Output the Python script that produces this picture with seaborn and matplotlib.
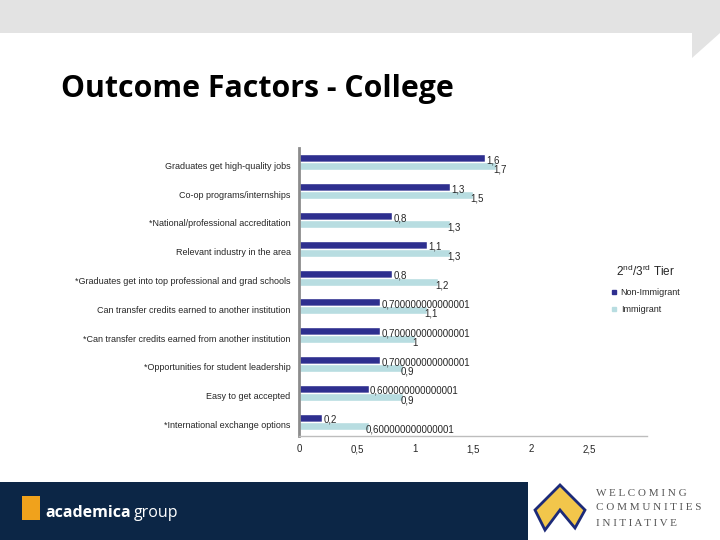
import matplotlib
matplotlib.use("Agg")
import matplotlib.pyplot as plt
import matplotlib.transforms as mtransforms
from matplotlib.patches import Rectangle, Polygon
from matplotlib.lines import Line2D
import seaborn as sns
import pandas as pd

categories = [
    "Graduates get high-quality jobs",
    "Co-op programs/internships",
    "*National/professional accreditation",
    "Relevant industry in the area",
    "*Graduates get into top professional and grad schools",
    "Can transfer credits earned to another institution",
    "*Can transfer credits earned from another institution",
    "*Opportunities for student leadership",
    "Easy to get accepted",
    "*International exchange options",
]
non_immigrant = [1.6, 1.3, 0.8, 1.1, 0.8, 0.7, 0.7, 0.7, 0.6, 0.2]
immigrant = [1.7, 1.5, 1.3, 1.3, 1.2, 1.1, 1.0, 0.9, 0.9, 0.6]
non_immigrant_labels = ["1,6", "1,3", "0,8", "1,1", "0,8", "0,700000000000001",
                        "0,700000000000001", "0,700000000000001", "0,600000000000001", "0,2"]
immigrant_labels = ["1,7", "1,5", "1,3", "1,3", "1,2", "1,1", "1", "0,9", "0,9",
                    "0,600000000000001"]
series = ["Non-Immigrant", "Immigrant"]
colors = ["#2e2f8f", "#b8dde1"]
xticks = [0, 0.5, 1, 1.5, 2, 2.5]
xtick_labels = ["0", "0,5", "1", "1,5", "2", "2,5"]

df = pd.DataFrame({
    "category": categories * 2,
    "value": non_immigrant + immigrant,
    "group": [series[0]] * len(categories) + [series[1]] * len(categories),
})

sns.set_style("white")
plt.rcParams["font.family"] = ["Liberation Sans", "DejaVu Sans"]

fig = plt.figure(figsize=(7.2, 5.4), dpi=100)

# header band
fig.patches.append(Rectangle((0, 1 - 33 / 540), 1, 33 / 540, transform=fig.transFigure,
                             facecolor="#e3e3e3", edgecolor="none", zorder=0))
fig.patches.append(Polygon([(692 / 720, 1 - 33 / 540), (720 / 720, 1 - 33 / 540),
                            (692 / 720, 1 - 58 / 540)], closed=True,
                           transform=fig.transFigure, facecolor="#e3e3e3",
                           edgecolor="none", zorder=0))
# footer band
fig.patches.append(Rectangle((0, 0), 1, 58 / 540, transform=fig.transFigure,
                             facecolor="#0c2646", edgecolor="none", zorder=0))
fig.patches.append(Rectangle((528 / 720, 0), 192 / 720, 58 / 540, transform=fig.transFigure,
                             facecolor="white", edgecolor="none", zorder=1))
fig.patches.append(Rectangle((22 / 720, 20 / 540), 18 / 720, 24 / 540, transform=fig.transFigure,
                             facecolor="#f0a21c", edgecolor="none", zorder=2))
t1 = fig.text(45 / 720, 27 / 540, "academica", color="white", fontsize=11.5, fontweight="bold",
              family=["Open Sans", "DejaVu Sans"], va="center", ha="left")
fig.canvas.draw()
bb = t1.get_window_extent()
fig.text(bb.x1 / 720 + 3 / 720, 27 / 540, "group", color="white", fontsize=11.5,
         family=["Open Sans", "DejaVu Sans"], va="center", ha="left")
fig.patches.append(Polygon([(545 / 720, 10 / 540), (560 / 720, 30 / 540), (575 / 720, 12 / 540),
                            (585 / 720, 30 / 540), (560 / 720, 55 / 540), (535 / 720, 30 / 540)],
                           closed=True, transform=fig.transFigure, facecolor="#f2c64b",
                           edgecolor="#1c2a78", linewidth=2, zorder=2))
for yy, word in [(47, "W E L C O M I N G"), (32, "C O M M U N I T I E S"),
                 (17, "I N I T I A T I V E")]:
    fig.text(596 / 720, yy / 540, word, color="#555555", fontsize=8,
             family=["Liberation Serif", "DejaVu Serif"], va="center", ha="left")

fig.text(61 / 720, 1 - 89 / 540, "Outcome Factors - College", fontsize=21.8, fontweight="bold",
         family=["Open Sans", "DejaVu Sans"], va="center", ha="left", color="black")

ax = fig.add_axes([299 / 720, 1 - 436 / 540, 348 / 720, 288 / 540])
sns.barplot(data=df, y="category", x="value", hue="group", orient="h",
            palette=colors, width=0.56, ax=ax, saturation=1, legend=False)

ax.set_xlim(0, 3)
ax.set_xticks(xticks)
ax.set_xticklabels(xtick_labels, fontsize=7)
ax.tick_params(axis="x", length=0, pad=6)
ax.tick_params(axis="y", length=0, labelsize=6.5, pad=6)
ax.set_xlabel("")
ax.set_ylabel("")
shift = mtransforms.ScaledTranslation(0, -3 / 100, fig.dpi_scale_trans)
for lab in ax.get_yticklabels():
    lab.set_transform(lab.get_transform() + shift)
for s in ["top", "right"]:
    ax.spines[s].set_visible(False)
ax.spines["left"].set_color("#8c8c8c")
ax.spines["left"].set_linewidth(2)
ax.spines["bottom"].set_color("#bdbdbd")
ax.spines["bottom"].set_linewidth(1)

anns = ax.bar_label(ax.containers[0], labels=non_immigrant_labels, fontsize=7, padding=1)
for a in anns:
    a.xyann = (1, -1.5)
anns = ax.bar_label(ax.containers[1], labels=immigrant_labels, fontsize=7, padding=1)
for a in anns:
    a.xyann = (-2, -2.5)

handles = [Line2D([], [], marker="s", linestyle="none", markersize=3.5,
                  markerfacecolor=c, markeredgecolor=c) for c in colors]
leg = ax.legend(handles, series,
                title=r"2$^{\mathregular{nd}}$/3$^{\mathregular{rd}}$ Tier", loc="upper left",
                bbox_to_anchor=(0.875, 0.625), frameon=False, fontsize=6.5,
                title_fontsize=8.5, handlelength=0.6, handletextpad=0.4, labelspacing=0.95)

fig.savefig("out.png", dpi=100)
